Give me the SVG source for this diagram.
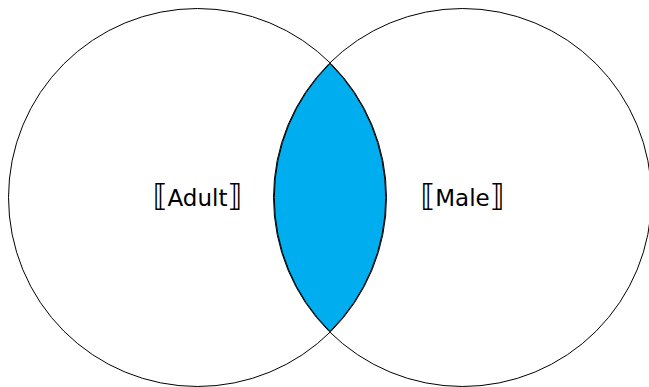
<svg xmlns="http://www.w3.org/2000/svg" width="649" height="387" viewBox="0 0 649 387">
<style>
.set{fill:none;stroke:#000;stroke-width:1}
.lens{fill:#00AEEF;stroke:#000;stroke-width:1}
.lbl{font-family:"DejaVu Sans","Liberation Sans",sans-serif;font-size:23px;fill:#000;text-anchor:middle}
.br{font-size:30px}
</style>
<rect width="649" height="387" fill="#fff"/>
<g id="intersection">
<path class="lens" d="M330 63.5 A189 189 0 0 0 330 331.5 A189 189 0 0 0 330 63.5 Z"/>
</g>
<g id="adult">
<circle class="set" cx="197.5" cy="197.5" r="189"/>
<text class="lbl" x="197.5" y="206"><tspan class="br">⟦</tspan>Adult<tspan class="br">⟧</tspan></text>
</g>
<g id="male">
<circle class="set" cx="462.5" cy="197.5" r="189"/>
<text class="lbl" x="462.5" y="206"><tspan class="br">⟦</tspan>Male<tspan class="br">⟧</tspan></text>
</g>
<g id="connectors"/>
</svg>
